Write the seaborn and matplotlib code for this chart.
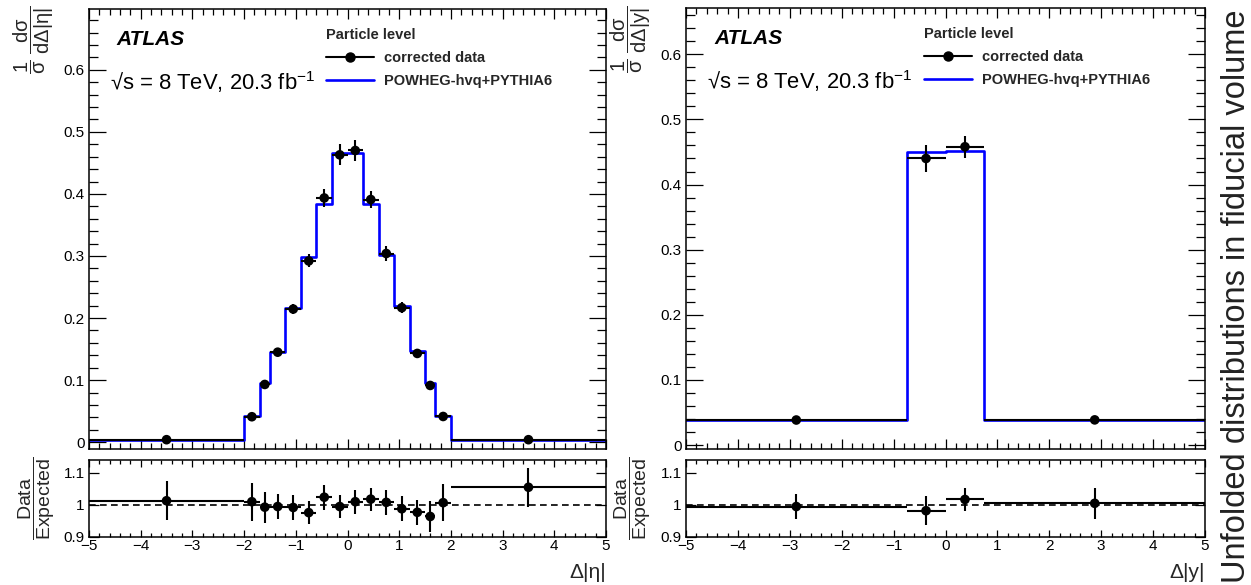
import numpy as np
import pandas as pd
import matplotlib
matplotlib.use("Agg")
import matplotlib.pyplot as plt
from matplotlib.ticker import MultipleLocator, FixedLocator, FuncFormatter
from matplotlib.lines import Line2D
import seaborn as sns

# ---- Delta|eta| distribution ----
eta_edges = [-5, -2, -1.7, -1.5, -1.2, -0.9, -0.6, -0.3, 0, 0.3, 0.6, 0.9, 1.2, 1.5, 1.7, 2, 5]
eta_data = [0.004, 0.041, 0.093, 0.145, 0.2145, 0.292, 0.3935, 0.463, 0.470, 0.391,
            0.304, 0.2167, 0.143, 0.0914, 0.0414, 0.004]
eta_data_err = [0.0003, 0.0025, 0.0045, 0.006, 0.0085, 0.0105, 0.015, 0.017, 0.017, 0.014,
                0.0115, 0.0085, 0.0055, 0.0045, 0.0025, 0.0003]
eta_mc = [0.0039, 0.042, 0.095, 0.146, 0.217, 0.299, 0.384, 0.4667, 0.4667, 0.384,
          0.302, 0.220, 0.1468, 0.0955, 0.042, 0.0038]
eta_ratio = [1.013, 1.010, 0.993, 0.995, 0.992, 0.976, 1.024, 0.995, 1.010, 1.018,
             1.008, 0.988, 0.977, 0.964, 1.007, 1.055]
eta_ratio_err = [0.060, 0.059, 0.048, 0.040, 0.040, 0.036, 0.039, 0.037, 0.037, 0.036,
                 0.038, 0.039, 0.039, 0.048, 0.058, 0.060]

# ---- Delta|y| distribution ----
y_edges = [-5, -0.75, 0, 0.75, 5]
y_data = [0.0385, 0.440, 0.458, 0.0387]
y_data_err = [0.0015, 0.020, 0.017, 0.0018]
y_mc = [0.0387, 0.450, 0.452, 0.0385]
y_ratio = [0.995, 0.982, 1.017, 1.005]
y_ratio_err = [0.040, 0.045, 0.036, 0.048]

x_ticks = [-5, -4, -3, -2, -1, 0, 1, 2, 3, 4, 5]
ratio_ticks = [0.9, 1.0, 1.1]
legend_title = "Particle level"
legend_labels = ["corrected data", "POWHEG-hvq+PYTHIA6"]

sns.set_theme(style="ticks")
plt.rcParams["font.family"] = ["Liberation Sans", "DejaVu Sans"]
plt.rcParams["mathtext.fontset"] = "custom"
plt.rcParams["mathtext.rm"] = "Liberation Sans"
plt.rcParams["mathtext.it"] = "Liberation Sans:italic"
plt.rcParams["mathtext.bf"] = "Liberation Sans:bold"
plt.rcParams["axes.linewidth"] = 1.1
plt.rcParams["axes.edgecolor"] = "black"

W, H = 1251, 585
fig = plt.figure(figsize=(W / 100, H / 100), dpi=100)


def px_rect(x0, x1, y0, y1):
    return [x0 / W, 1 - y1 / H, (x1 - x0) / W, (y1 - y0) / H]


def fmt_num(v, _pos=None):
    return "%g" % round(v, 3)


def bin_frame(edges, data, err, mc, ratio, ratio_err):
    e = np.asarray(edges, float)
    return pd.DataFrame({
        "center": 0.5 * (e[:-1] + e[1:]),
        "half": 0.5 * (e[1:] - e[:-1]),
        "data": data, "err": err, "mc": mc,
        "ratio": ratio, "ratio_err": ratio_err,
    })


def style_main(ax, ylo, yhi):
    ax.set_xlim(-5, 5)
    ax.set_ylim(ylo, yhi)
    ax.xaxis.set_major_locator(FixedLocator(x_ticks))
    ax.xaxis.set_minor_locator(MultipleLocator(0.2))
    ax.yaxis.set_major_locator(MultipleLocator(0.1))
    ax.yaxis.set_minor_locator(MultipleLocator(0.02))
    ax.yaxis.set_major_formatter(FuncFormatter(fmt_num))
    ax.tick_params(which="both", direction="in", top=True, right=True,
                   color="black", width=0.9, labelsize=11, labelcolor="black")
    ax.tick_params(axis="x", which="major", length=7.5, labelbottom=False)
    ax.tick_params(axis="x", which="minor", length=4)
    ax.tick_params(axis="y", which="major", length=12.5, pad=3)
    ax.tick_params(axis="y", which="minor", length=6.5)
    ax.set_xlabel("")
    ax.set_ylabel("")


def style_ratio(ax):
    ax.set_xlim(-5, 5)
    ax.set_ylim(0.9, 1.14)
    ax.xaxis.set_major_locator(FixedLocator(x_ticks))
    ax.xaxis.set_minor_locator(MultipleLocator(0.2))
    ax.yaxis.set_major_locator(FixedLocator(ratio_ticks))
    ax.yaxis.set_major_formatter(FuncFormatter(fmt_num))
    ax.xaxis.set_major_formatter(FuncFormatter(lambda v, p: "%d" % v if v >= 0 else "\u2212%d" % -v))
    ax.tick_params(which="both", direction="in", top=True, right=True,
                   color="black", width=0.9, labelsize=11, labelcolor="black")
    ax.tick_params(axis="x", which="major", length=5, pad=1.5)
    ax.tick_params(axis="x", which="minor", length=2.8)
    ax.tick_params(axis="y", which="major", length=7.5, pad=3)
    ax.set_xlabel("")
    ax.set_ylabel("")


def draw_panel(ax, axr, edges, df, ylo, yhi):
    # expected distribution as a step histogram
    mc_steps = pd.DataFrame({"x": edges, "y": list(df["mc"]) + [df["mc"].iloc[-1]]})
    sns.lineplot(data=mc_steps, x="x", y="y", drawstyle="steps-post", estimator=None,
                 sort=False, color="#0000ff", linewidth=1.9, ax=ax, zorder=2)
    # unfolded data with bin-width horizontal bars
    ax.errorbar(df["center"], df["data"], xerr=df["half"], yerr=df["err"], fmt="none",
                ecolor="black", elinewidth=1.5, capsize=0, zorder=3)
    sns.scatterplot(data=df, x="center", y="data", color="black", s=48, edgecolor="none",
                    ax=ax, zorder=4, legend=False)
    style_main(ax, ylo, yhi)

    # ratio data / expected
    axr.axhline(1.0, color="black", lw=1.2, ls=(0, (4, 2.6)), zorder=1)
    axr.errorbar(df["center"], df["ratio"], xerr=df["half"], yerr=df["ratio_err"], fmt="none",
                 ecolor="black", elinewidth=1.5, capsize=0, zorder=3)
    sns.scatterplot(data=df, x="center", y="ratio", color="black", s=48, edgecolor="none",
                    ax=axr, zorder=4, legend=False)
    style_ratio(axr)

    ax.text(0.054, 0.93, "ATLAS", transform=ax.transAxes, fontsize=15, fontweight="bold",
            fontstyle="italic", ha="left", va="center", color="black")
    ax.text(0.040, 0.835, "\u221as = 8 TeV, 20.3 fb$^{\\mathregular{-1}}$", transform=ax.transAxes,
            fontsize=15.8, ha="left", va="center", color="black")

    handles = [Line2D([], [], color="black", marker="o", markersize=6.5, lw=1.5),
               Line2D([], [], color="#0000ff", lw=1.9)]
    leg = ax.legend(handles, legend_labels, title=legend_title, loc="upper left",
                    bbox_to_anchor=(0.459, 0.956), frameon=False, borderpad=0,
                    borderaxespad=0, handlelength=3.3, handletextpad=0.65,
                    labelspacing=0.62, prop={"weight": "bold", "size": 10.5},
                    title_fontproperties={"weight": "bold", "size": 10.5})
    leg._legend_box.align = "left"
    leg._legend_box.sep = 6


df_eta = bin_frame(eta_edges, eta_data, eta_data_err, eta_mc, eta_ratio, eta_ratio_err)
df_y = bin_frame(y_edges, y_data, y_data_err, y_mc, y_ratio, y_ratio_err)

ax1 = fig.add_axes(px_rect(89, 606, 9, 449))
ax1r = fig.add_axes(px_rect(89, 606, 460, 537))
ax2 = fig.add_axes(px_rect(686, 1205, 8, 449))
ax2r = fig.add_axes(px_rect(686, 1205, 460, 537))

draw_panel(ax1, ax1r, eta_edges, df_eta, -0.011, 0.698)
draw_panel(ax2, ax2r, y_edges, df_y, -0.006, 0.671)

# axis titles
ylab_eta = r"$\dfrac{1}{\mathrm{σ}}\ \dfrac{\mathrm{dσ}}{\mathrm{dΔ|η|}}$"
ylab_y = r"$\dfrac{1}{\mathrm{σ}}\ \dfrac{\mathrm{dσ}}{\mathrm{dΔ|y|}}$"
rlab = r"$\dfrac{\mathrm{Data}}{\mathrm{Expected}}$"
fig.text(34 / W, 1 - 5 / H, ylab_eta, rotation=90, ha="center", va="top", fontsize=14.5)
fig.text(631 / W, 1 - 5 / H, ylab_y, rotation=90, ha="center", va="top", fontsize=14.5)
fig.text(37 / W, 1 - 498 / H, rlab, rotation=90, ha="center", va="center", fontsize=14)
fig.text(633 / W, 1 - 498 / H, rlab, rotation=90, ha="center", va="center", fontsize=14)
fig.text(606 / W, 1 - 582 / H, "\u0394|\u03b7|", ha="right", va="bottom", fontsize=15)
fig.text(1205 / W, 1 - 582 / H, "\u0394|y|", ha="right", va="bottom", fontsize=15)

fig.text(1245 / W, 1 - 296.5 / H, "Unfolded distributions in fiducial volume", rotation=90,
         rotation_mode="anchor", ha="center", va="baseline", fontsize=23.5, color="#222222")

fig.savefig("out.png", dpi=100)
